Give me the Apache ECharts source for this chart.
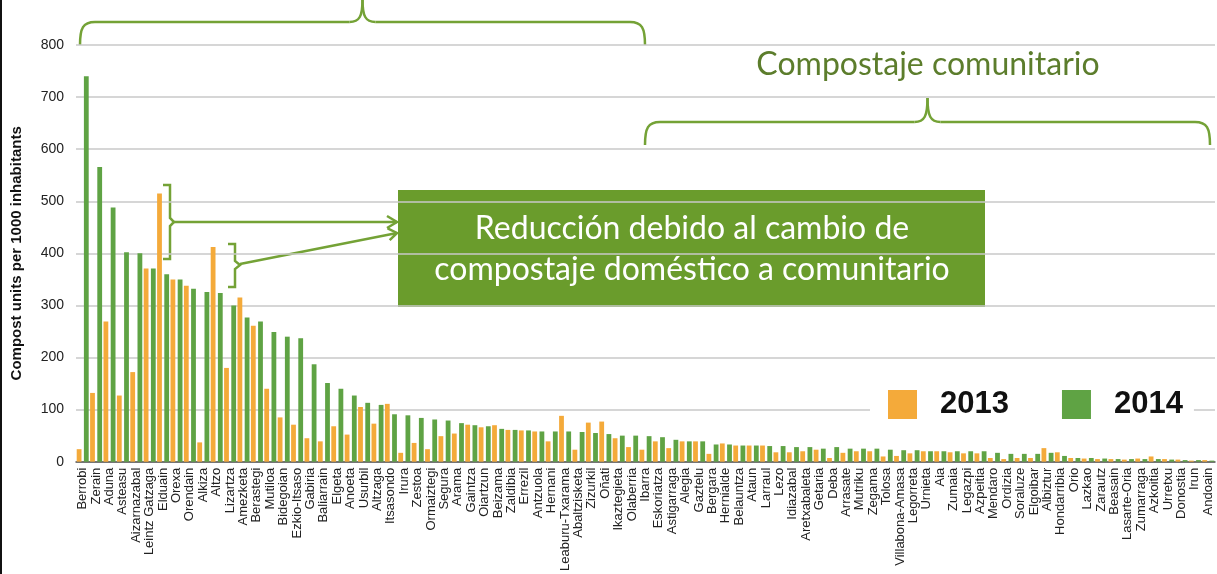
<!DOCTYPE html>
<html>
<head>
<meta charset="utf-8">
<script src="https://cdn.jsdelivr.net/npm/echarts@6/dist/echarts.min.js"></script>
<style>
  html, body { margin: 0; padding: 0; background: #fff; }
  #chart { width: 1217px; height: 574px; }
</style>
</head>
<body>
<div id="chart"></div>
<script>
  // municipios
  const towns = ['Berrobi', 'Zerain', 'Aduna', 'Asteasu', 'Aizarnazabal', 'Leintz Gatzaga', 'Elduain', 'Orexa', 'Orendain', 'Alkiza',
    'Altzo', 'Lizartza', 'Amezketa', 'Berastegi', 'Mutiloa', 'Bidegoian', 'Ezkio-Itsaso', 'Gabiria', 'Baliarrain', 'Elgeta',
    'Anoeta', 'Usurbil', 'Altzaga', 'Itsasondo', 'Irura', 'Zestoa', 'Ormaiztegi', 'Segura', 'Arama', 'Gaintza',
    'Oiartzun', 'Beizama', 'Zaldibia', 'Errezil', 'Antzuola', 'Hernani', 'Leaburu-Txarama', 'Abaltzisketa', 'Zizurkil', 'Oñati',
    'Ikaztegieta', 'Olaberria', 'Ibarra', 'Eskoriatza', 'Astigarraga', 'Alegia', 'Gaztelu', 'Bergara', 'Hernialde', 'Belauntza',
    'Ataun', 'Larraul', 'Lezo', 'Idiazabal', 'Aretxabaleta', 'Getaria', 'Deba', 'Arrasate', 'Mutriku', 'Zegama',
    'Tolosa', 'Villabona-Amasa', 'Legorreta', 'Urnieta', 'Aia', 'Zumaia', 'Legazpi', 'Azpeitia', 'Mendaro', 'Ordizia',
    'Soraluze', 'Elgoibar', 'Albiztur', 'Hondarribia', 'Orio', 'Lazkao', 'Zarautz', 'Beasain', 'Lasarte-Oria', 'Zumarraga',
    'Azkoitia', 'Urretxu', 'Donostia', 'Irun', 'Andoain']

  const units2013 = [24, 132, 269, 127, 172, 371, 515, 350, 338, 37,
    412, 180, 315, 261, 140, 85, 71, 45, 39, 68,
    52, 105, 73, 111, 17, 36, 24, 49, 54, 71,
    66, 70, 61, 60, 58, 39, 88, 23, 75, 77,
    45, 28, 23, 39, 26, 39, 39, 15, 35, 31,
    31, 31, 18, 18, 20, 23, 7, 17, 20, 20,
    10, 11, 16, 20, 20, 18, 16, 16, 7, 5,
    7, 7, 26, 18, 7, 6, 5, 5, 4, 6,
    10, 5, 4, 2, 3]

  const units2014 = [740, 566, 488, 402, 400, 371, 360, 350, 332, 326,
    324, 300, 277, 269, 249, 240, 237, 187, 151, 140,
    127, 113, 109, 91, 89, 84, 81, 79, 74, 70,
    68, 63, 61, 60, 58, 58, 58, 57, 55, 53,
    50, 50, 49, 47, 42, 39, 39, 33, 33, 31,
    31, 30, 30, 28, 28, 25, 28, 25, 25, 25,
    23, 22, 22, 20, 20, 20, 20, 20, 17, 15,
    15, 15, 17, 11, 7, 7, 6, 5, 5, 5,
    5, 4, 3, 3, 2]

  const yearNames = ['2013', '2014']
  const yearColors = ['#f4aa3a', '#5fa344']

  const noteGreen = '#74a236'
  const lineStyle = { stroke: noteGreen, lineWidth: 2.5, fill: null }

  // llave horizontal: extremos hacia abajo, pico hacia arriba
  function brace (x1, x2, y, endY, tipY) {
    let mid = (x1 + x2) / 2
    let parts = [
      { x1: x1, y1: endY, cpx1: x1, cpy1: y + 6, cpx2: x1 + 3, cpy2: y, x2: x1 + 15, y2: y },
      { x1: mid - 13, y1: y, cpx1: mid - 3, cpy1: y, cpx2: mid, cpy2: y - 6, x2: mid, y2: tipY },
      { x1: mid, y1: tipY, cpx1: mid, cpy1: y - 6, cpx2: mid + 3, cpy2: y, x2: mid + 13, y2: y },
      { x1: x2 - 15, y1: y, cpx1: x2 - 3, cpy1: y, cpx2: x2, cpy2: y + 6, x2: x2, y2: endY }
    ]
    let els = parts.map(p => ({ type: 'bezierCurve', shape: p, style: lineStyle }))
    els.push({ type: 'line', shape: { x1: x1 + 15, y1: y, x2: mid - 13, y2: y }, style: lineStyle })
    els.push({ type: 'line', shape: { x1: mid + 13, y1: y, x2: x2 - 15, y2: y }, style: lineStyle })
    return els
  }

  function poly (points) {
    return { type: 'polyline', shape: { points: points }, style: lineStyle }
  }

  let option = {
    animation: false,
    color: yearColors,
    grid: { left: 76, right: 2, top: 45, bottom: 112 },
    legend: {
      data: yearNames,
      left: 870,
      top: 379,
      icon: 'rect',
      itemWidth: 29,
      itemHeight: 29,
      itemGap: 53,
      padding: [10, 11, 10, 18],
      backgroundColor: '#fff',
      textStyle: {
        fontFamily: 'Liberation Sans',
        fontSize: 31,
        fontWeight: 'bold',
        color: '#111',
        padding: [0, 0, 0, 18]
      }
    },
    xAxis: {
      type: 'category',
      data: towns,
      axisTick: { show: false },
      axisLine: { lineStyle: { color: '#555', width: 1.5 } },
      axisLabel: {
        interval: 0,
        rotate: 90,
        margin: 6,
        fontFamily: 'Liberation Sans',
        fontSize: 13,
        color: '#222'
      }
    },
    yAxis: {
      type: 'value',
      min: 0,
      max: 800,
      interval: 100,
      name: 'Compost units per 1000 inhabitants',
      nameLocation: 'middle',
      nameGap: 52,
      nameTextStyle: {
        fontFamily: 'Liberation Sans',
        fontSize: 15,
        fontWeight: 'bold',
        color: '#111'
      },
      axisLine: { show: false },
      axisTick: { show: false },
      axisLabel: {
        margin: 12,
        fontFamily: 'Liberation Sans',
        fontSize: 14,
        color: '#222'
      },
      splitLine: { lineStyle: { color: '#c8c8c8', width: 1.5 } }
    },
    series: [
      {
        name: yearNames[0],
        type: 'bar',
        barWidth: 4.8,
        barGap: '50%',
        data: units2013
      },
      {
        name: yearNames[1],
        type: 'bar',
        barWidth: 4.8,
        barGap: '50%',
        data: units2014
      }
    ],
    graphic: [
      // borde izquierdo
      { type: 'line', shape: { x1: 1, y1: 0, x2: 1, y2: 574 }, style: { stroke: '#111', lineWidth: 2 } }
    ].concat(
      brace(80, 645, 22, 45, 0),
      brace(645, 1210, 122, 145, 98),
      [
        {
          type: 'text',
          x: 928,
          y: 65,
          style: {
            text: 'Compostaje comunitario',
            fontFamily: 'Lato',
            fontSize: 32,
            fill: '#5c7d2c',
            align: 'center',
            verticalAlign: 'middle'
          }
        },
        // corchetes y flechas
        poly([[163, 185], [170, 185], [170, 218], [174, 222], [170, 226], [170, 259], [163, 259]]),
        poly([[174, 222], [397, 222]]),
        poly([[387, 216], [397, 222], [387, 228]]),
        poly([[228, 244], [235, 244], [235, 261], [240, 265], [235, 269], [235, 287], [228, 287]]),
        poly([[240, 264], [397, 233]]),
        poly([[387.6, 228.4], [397, 233], [389.7, 240.2]]),
        // cuadro verde
        {
          type: 'rect',
          shape: { x: 398, y: 190, width: 587, height: 117 },
          style: { fill: '#6a9c2c' }
        },
        {
          type: 'text',
          x: 692,
          y: 249,
          style: {
            text: 'Reducción debido al cambio de\ncompostaje doméstico a comunitario',
            fontFamily: 'Lato',
            fontSize: 32,
            lineHeight: 41,
            fill: '#fff',
            align: 'center',
            verticalAlign: 'middle'
          }
        }
      ]
    )
  }

  let chart = echarts.init(document.getElementById('chart'))
  chart.setOption(option)
  window.addEventListener('resize', () => {
    chart.resize()
  })
</script>
</body>
</html>
